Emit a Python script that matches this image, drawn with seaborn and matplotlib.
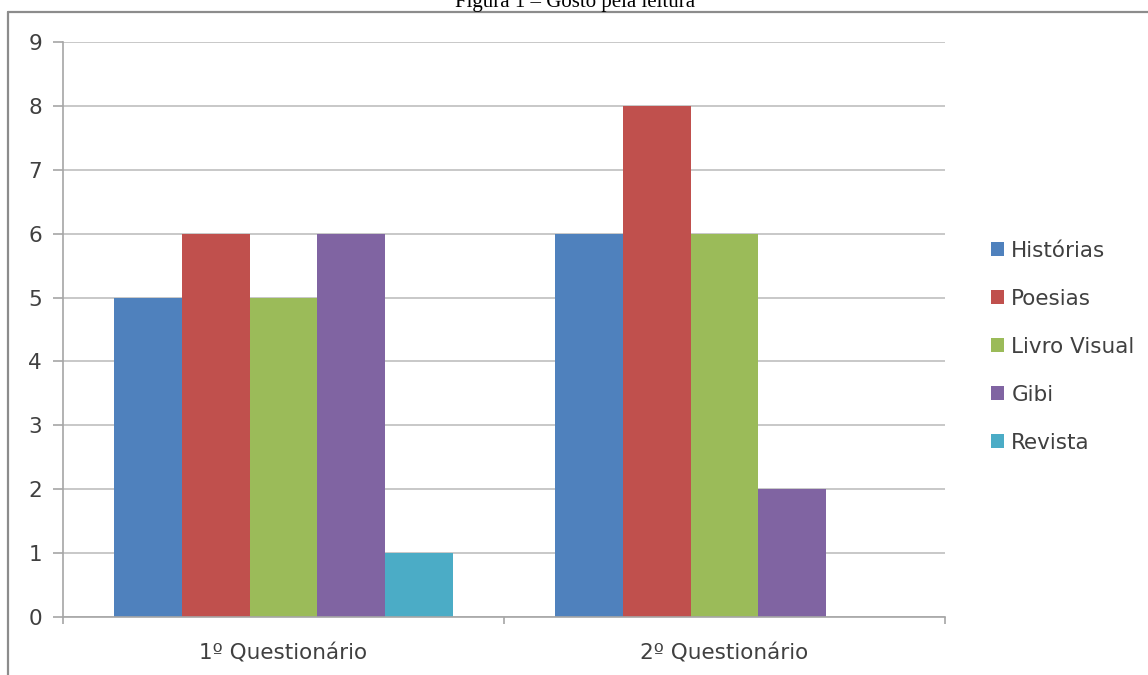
import matplotlib
matplotlib.use("Agg")
import matplotlib.pyplot as plt
from matplotlib.lines import Line2D
import seaborn as sns
import pandas as pd

# Survey results: reading preferences in two questionnaires
questionarios = ["1º Questionário", "2º Questionário"]
tipos = ["Histórias", "Poesias", "Livro Visual", "Gibi", "Revista"]
historias = [5, 6]
poesias = [6, 8]
livro_visual = [5, 6]
gibi = [6, 2]
revista = [1, 0]
y_ticks = list(range(0, 10))

cores = ["#4F81BD", "#C0504D", "#9BBB59", "#8064A2", "#4BACC6"]

series = [historias, poesias, livro_visual, gibi, revista]
df = pd.DataFrame(
    [(q, t, vals[i]) for t, vals in zip(tipos, series) for i, q in enumerate(questionarios)],
    columns=["Questionário", "Tipo", "Quantidade"],
)

sns.set_theme(style="white")
plt.rcParams["font.family"] = ["DejaVu Sans"]

fig = plt.figure(figsize=(11.48, 6.75), dpi=100)
ax = fig.add_axes([63 / 1148, 1 - 617 / 675, (945 - 63) / 1148, (617 - 42) / 675])

sns.barplot(
    data=df, x="Questionário", y="Quantidade", hue="Tipo",
    hue_order=tipos, order=questionarios, palette=cores,
    saturation=1, width=0.77, linewidth=0, ax=ax, legend=True,
)

ax.set_xlim(-0.5, 1.5)
ax.set_ylim(0, 9)
ax.set_yticks(y_ticks)
ax.set_xlabel("")
ax.set_ylabel("")
ax.yaxis.grid(True, color="#c8c8c8", linewidth=1.4)
ax.set_axisbelow(True)

for side in ["top", "right"]:
    ax.spines[side].set_visible(False)
for side in ["left", "bottom"]:
    ax.spines[side].set_color("#a6a6a6")
    ax.spines[side].set_linewidth(1.2)

ax.tick_params(axis="y", which="major", length=7, width=1.2, color="#a6a6a6",
               labelsize=15.5, labelcolor="#404040", pad=8, left=True)
ax.tick_params(axis="x", which="major", length=0, labelsize=15.5,
               labelcolor="#404040", pad=19)
ax.set_xticks([-0.5, 0.5, 1.5], minor=True)
ax.tick_params(axis="x", which="minor", length=5, width=1.2, color="#a6a6a6",
               bottom=True, direction="out")

leg = ax.legend(
    loc="center left", bbox_to_anchor=(1.03, 0.47), frameon=False,
    fontsize=15.5, handlelength=0.6, handleheight=0.6, handletextpad=0.35,
    labelspacing=1.3, labelcolor="#404040",
)

# Chart frame and caption
fig.add_artist(Line2D([8 / 1148, 8 / 1148], [0, 1 - 12 / 675],
                      transform=fig.transFigure, color="#8c8c8c", linewidth=1.6))
fig.add_artist(Line2D([8 / 1148, 1], [1 - 12 / 675, 1 - 12 / 675],
                      transform=fig.transFigure, color="#8c8c8c", linewidth=1.6))
fig.text(575 / 1148, 1 - 3 / 675, "Figura 1 – Gosto pela leitura",
         family=["Liberation Serif", "DejaVu Serif"], fontsize=15,
         ha="center", va="center", color="black")

fig.savefig("out.png", dpi=100)
